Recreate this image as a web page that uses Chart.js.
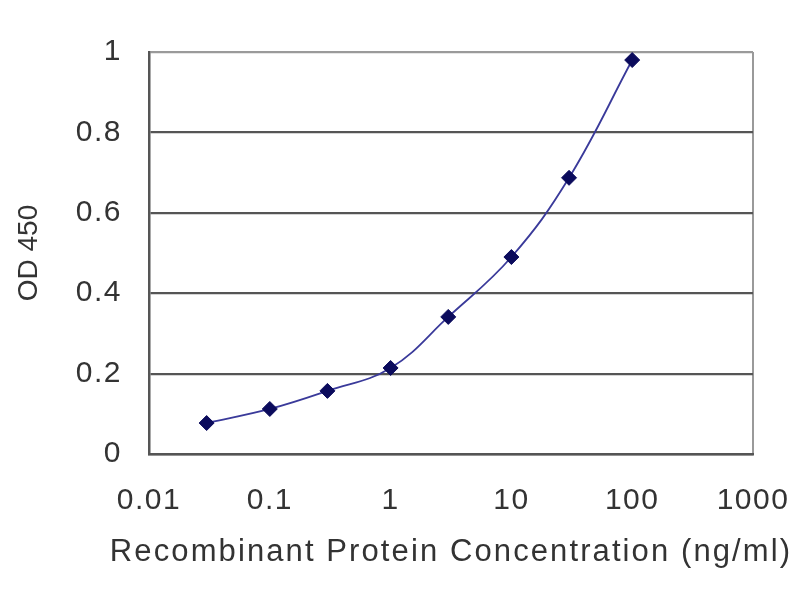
<!DOCTYPE html>
<html>
<head>
<meta charset="utf-8">
<script src="https://cdn.jsdelivr.net/npm/chart.js@4/dist/chart.umd.min.js"></script>
<style>
html,body{margin:0;padding:0;background:#fff;}
#wrap{width:800px;height:600px;}
</style>
</head>
<body>
<div id="wrap"><canvas id="c" width="800" height="600"></canvas></div>
<script>
const concentrations = [0.03, 0.1, 0.3, 1, 3, 10, 30, 100];
const od450 = [0.077, 0.112, 0.157, 0.214, 0.341, 0.49, 0.687, 0.98];
const xTicks = [0.01, 0.1, 1, 10, 100, 1000];
const xTickLabels = ['0.01', '0.1', '1', '10', '100', '1000'];
const yTicks = [0, 0.2, 0.4, 0.6, 0.8, 1];
const yTickLabels = ['0', '0.2', '0.4', '0.6', '0.8', '1'];
const xTitle = 'Recombinant Protein Concentration (ng/ml)';
const yTitle = 'OD 450';

const textColor = '#333333';
const fontFam = '"Liberation Sans", Arial, sans-serif';

function withSpacing(fn, px, widen) {
  return function() {
    const ctx = this.ctx;
    const prev = ctx.letterSpacing;
    ctx.letterSpacing = px;
    let l = this.left, r = this.right;
    if (widen) { this.left = l - widen; this.right = r + widen; }
    const res = fn.apply(this, arguments);
    this.left = l; this.right = r;
    ctx.letterSpacing = prev || '0px';
    return res;
  };
}

const spacingPlugin = {
  id: 'spacing',
  beforeDraw(chart) {
    const xs = chart.scales.x, ys = chart.scales.y;
    if (!xs._spaced) {
      xs.drawTitle = withSpacing(xs.drawTitle, '2.1px', 48);
      xs.drawLabels = withSpacing(xs.drawLabels, '1.5px', 0);
      xs._spaced = true;
    }
    if (!ys._spaced) {
      ys.drawLabels = withSpacing(ys.drawLabels, '1.5px', 0);
      ys._spaced = true;
    }
  }
};

new Chart(document.getElementById('c'), {
  type: 'line',
  data: {
    datasets: [{
      data: concentrations.map((x, i) => ({x: x, y: od450[i]})),
      borderColor: '#3a3a9a',
      borderWidth: 1.8,
      tension: 0.4,
      pointStyle: 'rectRot',
      pointRadius: 7.5,
      pointBackgroundColor: '#0b0b5c',
      pointBorderColor: '#0b0b5c',
      pointBorderWidth: 1,
      fill: false
    }]
  },
  plugins: [spacingPlugin],
  options: {
    responsive: false,
    animation: false,
    devicePixelRatio: 1,
    layout: {padding: {left: 0, top: 52, right: 47, bottom: 0}},
    plugins: {legend: {display: false}, tooltip: {enabled: false}},
    scales: {
      x: {
        type: 'logarithmic',
        min: 0.01,
        max: 1000,
        afterBuildTicks: (s) => { s.ticks = xTicks.map(v => ({value: v})); },
        afterFit: (s) => { s.height = 146; s.paddingLeft = 0; s.paddingRight = 0; },
        ticks: {
          autoSkip: false,
          maxRotation: 0,
          padding: 29,
          color: textColor,
          font: {family: fontFam, size: 30},
          callback: (v, i) => xTickLabels[i]
        },
        grid: {
          drawTicks: false,
          lineWidth: 2,
          color: (ctx) => (ctx.tick && ctx.tick.value === 1000) ? '#9a9a9a' : 'rgba(0,0,0,0)'
        },
        border: {color: '#555', width: 2.5},
        title: {
          display: true,
          text: xTitle,
          color: textColor,
          font: {family: fontFam, size: 31},
          padding: {top: 0, bottom: 29}
        }
      },
      y: {
        min: 0,
        max: 1,
        afterBuildTicks: (s) => { s.ticks = yTicks.map(v => ({value: v})); },
        afterFit: (s) => { s.width = 149; },
        ticks: {
          padding: 27,
          color: textColor,
          font: {family: fontFam, size: 30},
          callback: (v, i) => yTickLabels[i]
        },
        grid: {
          drawTicks: false,
          lineWidth: 2.2,
          color: (ctx) => (ctx.tick && ctx.tick.value === 1) ? '#9a9a9a' : '#555'
        },
        border: {color: '#555', width: 2.5},
        title: {
          display: true,
          text: yTitle,
          color: textColor,
          font: {family: fontFam, size: 28},
          padding: {top: 12, bottom: 0}
        }
      }
    }
  }
});
</script>
</body>
</html>
